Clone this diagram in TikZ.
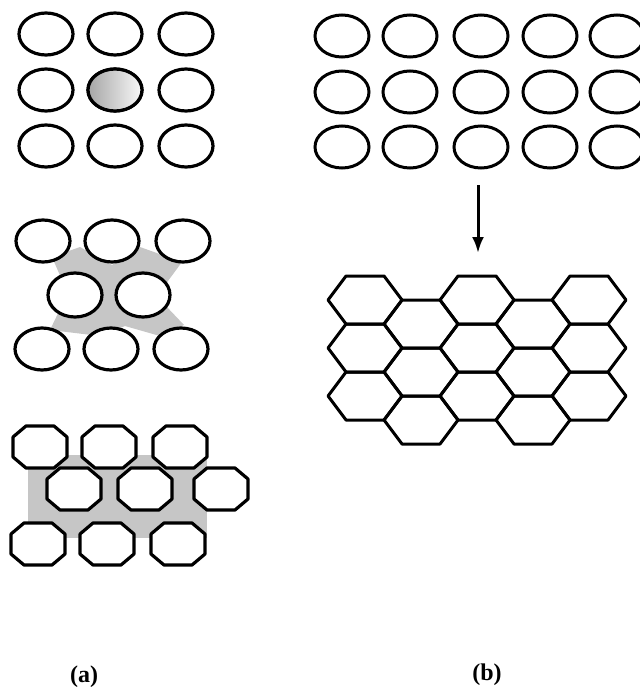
\documentclass[tikz,border=0pt]{standalone}
\usepackage{fontspec}
\setmainfont{Liberation Serif}
\usetikzlibrary{arrows.meta}

\begin{document}
\begin{tikzpicture}[x=1pt, y=-1pt,
  every node/.style={font=\fontsize{24}{28}\selectfont\bfseries},
  atom/.style={draw=black, line width=3.2pt, fill=white},
  grain/.style={draw=black, line width=3pt, line join=round},
  halftone/.style={fill=gray!45, draw=none}
]
  \useasboundingbox (0,0) rectangle (639,687);
  % (a) top: square array, centre one shaded
  \foreach \x in {46,115,186}
    \foreach \y in {34,90,146}
      \draw[atom] (\x,\y) ellipse [x radius=27, y radius=21];
  \draw[atom, left color=gray!70, right color=gray!5] (115,90) ellipse [x radius=27, y radius=21];
  % (a) middle: shifted rows, X-shaped neck
  \fill[halftone] (52,257) -- (80,247) -- (112,265) -- (140,247) -- (182,262)
    -- (165,285) -- (165,305) -- (184,325) -- (160,336) -- (125,326)
    -- (100,336) -- (50,330) -- (62,305) -- (62,280) -- cycle;
  \foreach \x in {43,112,183}
    \draw[atom] (\x,241) ellipse [x radius=27, y radius=21];
  \foreach \x in {75,143}
    \draw[atom] (\x,295) ellipse [x radius=27, y radius=22];
  \foreach \x in {42,111,181}
    \draw[atom] (\x,349) ellipse [x radius=27, y radius=21];
  % (a) bottom: octagons
  \fill[halftone] (28,455) rectangle (207,538);
  \foreach \x/\y in {40/447,109/447,180/447,74/489,145/489,221/489,38/544,107/544,178/544}
    \draw[atom, line join=round, shift={(\x,\y)}]
      (-14,-21) -- (14,-21) -- (27,-10) -- (27,10) -- (14,21) -- (-14,21) -- (-27,10) -- (-27,-10) -- cycle;
  % (b) top: 5 x 3 array
  \foreach \x in {342,410,481,550,617}
    \foreach \y in {36,92,147}
      \draw[atom, line width=3pt] (\x,\y) ellipse [x radius=27, y radius=21];
  \coordinate (arrtop) at (478,185);
  \coordinate (arrtip) at (478,253);
  \draw[-{Latex[length=16pt, width=12pt]}, line width=3pt] (arrtop) -- (arrtip);
  % (b) bottom: hexagons
  \foreach \x/\y in {365/300,365/348,365/396,421/324,421/372,421/420,
                     477/300,477/348,477/396,533/324,533/372,533/420,
                     589/300,589/348,589/396}
    \draw[grain, shift={(\x,\y)}]
      (-37,0) -- (-19,-24) -- (19,-24) -- (37,0) -- (19,24) -- (-19,24) -- cycle;
  \node (lbla) at (84,677) {(a)};
  \node (lblb) at (487,675) {(b)};
\end{tikzpicture}
\end{document}
